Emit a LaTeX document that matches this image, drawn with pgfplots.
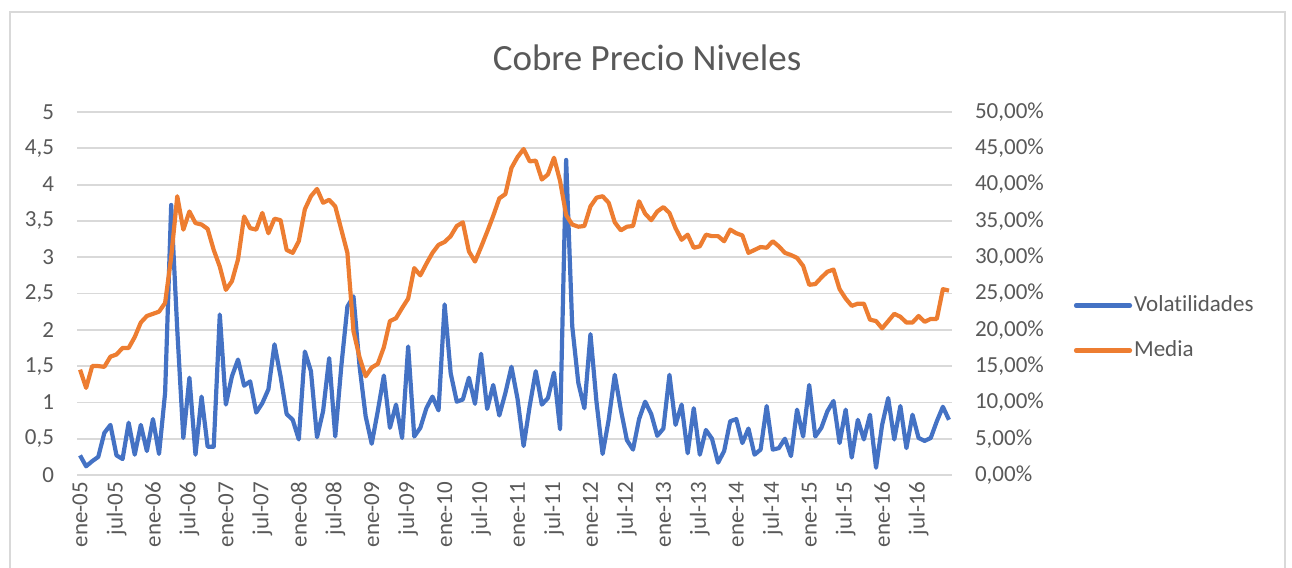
\documentclass[border=0pt]{standalone}
\usepackage{fontspec}
\setmainfont{Carlito}[Ligatures=CommonOff]
\usepackage{pgfplots}
\usepackage{pgfplotstable}
\pgfplotsset{compat=1.18}

\definecolor{volblue}{HTML}{4472C4}
\definecolor{mediaorange}{HTML}{ED7D31}
\definecolor{gridgray}{HTML}{D9D9D9}
\definecolor{textgray}{HTML}{595959}

% i = month index (0 = ene-05), media = price level, vol = volatility in percent
\pgfplotstableread{
i media vol
0 1.45 2.7
1 1.20 1.2
2 1.50 1.9
3 1.50 2.5
4 1.49 5.8
5 1.63 6.9
6 1.66 2.7
7 1.75 2.2
8 1.75 7.2
9 1.90 2.8
10 2.10 6.9
11 2.19 3.3
12 2.22 7.7
13 2.25 2.9
14 2.37 11.3
15 3.00 37.2
16 3.84 20.0
17 3.38 5.1
18 3.63 13.4
19 3.47 2.8
20 3.45 10.8
21 3.39 3.9
22 3.10 3.9
23 2.87 22.1
24 2.55 9.7
25 2.67 13.6
26 2.97 15.9
27 3.56 12.3
28 3.40 12.9
29 3.38 8.6
30 3.61 9.9
31 3.33 11.8
32 3.53 18.0
33 3.51 13.6
34 3.10 8.4
35 3.06 7.6
36 3.22 4.9
37 3.66 17.0
38 3.84 14.3
39 3.94 5.2
40 3.75 8.8
41 3.79 16.1
42 3.70 5.3
43 3.38 15.0
44 3.06 23.2
45 1.98 24.6
46 1.62 15.0
47 1.36 8.1
48 1.48 4.3
49 1.53 8.8
50 1.76 13.7
51 2.12 6.5
52 2.16 9.7
53 2.30 5.1
54 2.43 17.7
55 2.85 5.3
56 2.75 6.5
57 2.91 9.2
58 3.06 10.8
59 3.17 8.9
60 3.21 23.5
61 3.29 14.0
62 3.43 10.1
63 3.48 10.4
64 3.08 13.4
65 2.94 9.8
66 3.14 16.7
67 3.35 9.1
68 3.57 12.4
69 3.81 8.2
70 3.87 11.3
71 4.23 14.9
72 4.38 10.5
73 4.49 4.0
74 4.32 9.5
75 4.33 14.3
76 4.07 9.7
77 4.14 10.6
78 4.37 14.1
79 4.05 6.3
80 3.58 43.4
81 3.45 20.5
82 3.42 12.7
83 3.43 9.2
84 3.70 19.4
85 3.82 10.0
86 3.84 2.9
87 3.75 7.6
88 3.48 13.8
89 3.37 9.0
90 3.42 4.8
91 3.43 3.5
92 3.77 7.7
93 3.60 10.1
94 3.51 8.4
95 3.63 5.4
96 3.69 6.4
97 3.61 13.8
98 3.40 6.9
99 3.24 9.7
100 3.31 3.0
101 3.13 9.2
102 3.15 2.8
103 3.31 6.2
104 3.29 5.0
105 3.29 1.7
106 3.22 3.3
107 3.38 7.4
108 3.33 7.7
109 3.30 4.4
110 3.06 6.4
111 3.10 2.8
112 3.14 3.5
113 3.13 9.5
114 3.22 3.5
115 3.15 3.7
116 3.06 5.0
117 3.03 2.6
118 2.99 9.0
119 2.88 5.3
120 2.62 12.4
121 2.63 5.3
122 2.72 6.5
123 2.80 8.8
124 2.83 10.2
125 2.56 4.4
126 2.43 9.0
127 2.33 2.4
128 2.36 7.6
129 2.36 4.9
130 2.14 8.3
131 2.12 1.0
132 2.02 6.9
133 2.12 10.6
134 2.22 4.9
135 2.18 9.5
136 2.10 3.7
137 2.10 8.3
138 2.19 5.1
139 2.11 4.7
140 2.15 5.1
141 2.15 7.4
142 2.56 9.4
143 2.54 7.6
}\datatable

\begin{document}
\begin{tikzpicture}
	% canvas: 0.5pt per pixel of the 1292x568 reference
	\path[use as bounding box] (0,0) rectangle (646pt,284pt);
	\draw[gridgray, line width=0.6pt] (5pt,-10pt) -- (5pt,278pt) -- (642.5pt,278pt) -- (642.5pt,-10pt);
	\node[text=textgray, font=\fontsize{18.5}{22}\selectfont] at (323.5pt,255pt) {Cobre Precio Niveles};

	\pgfplotsset{
		every axis/.append style={
			scale only axis, width=437.5pt, height=181.5pt,
			at={(38.5pt,46.5pt)}, anchor=south west,
			xmin=-0.5, xmax=143.5,
			axis line style={draw=none},
			major tick length=0pt,
			tick label style={text=textgray, font=\fontsize{11.5}{13}\selectfont},
		},
	}

	% volatility, right axis in percent
	\begin{axis}[
		ymin=0, ymax=50,
		ytick={0,5,...,50},
		yticklabels={{0,00\%},{5,00\%},{10,00\%},{15,00\%},{20,00\%},{25,00\%},{30,00\%},{35,00\%},{40,00\%},{45,00\%},{50,00\%}},
		ytick pos=right,
		yticklabel style={anchor=west, xshift=8pt},
		ymajorgrids,
		grid style={gridgray, line width=0.9pt},
		xtick={0,6,...,138},
		xticklabels={ene-05,jul-05,ene-06,jul-06,ene-07,jul-07,ene-08,jul-08,ene-09,jul-09,ene-10,jul-10,ene-11,jul-11,ene-12,jul-12,ene-13,jul-13,ene-14,jul-14,ene-15,jul-15,ene-16,jul-16},
		xticklabel style={rotate=90, anchor=east},
		]
		\addplot[volblue, line width=2.1pt, line join=round] table[x=i, y=vol] {\datatable};
	\end{axis}

	% price level, left axis
	\begin{axis}[
		ymin=0, ymax=5,
		ytick={0,0.5,...,5},
		yticklabels={0,{0,5},1,{1,5},2,{2,5},3,{3,5},4,{4,5},5},
		ytick pos=left,
		yticklabel style={anchor=east, xshift=-8pt},
		xtick=\empty,
		legend style={draw=none, fill=none, at={(1.132,0.405)}, anchor=west,
			font=\fontsize{11.5}{13}\selectfont, text=textgray, row sep=11pt,
			nodes={inner sep=1pt}},
		legend cell align=left,
		legend image code/.code={\draw[#1, line cap=round] (0pt,0pt) -- (27pt,0pt);},
		]
		\addlegendimage{volblue, line width=2.1pt}
		\addlegendentry{Volatilidades}
		\addplot[mediaorange, line width=2.1pt, line join=round] table[x=i, y=media] {\datatable};
		\addlegendentry{Media}
	\end{axis}
\end{tikzpicture}
\end{document}
